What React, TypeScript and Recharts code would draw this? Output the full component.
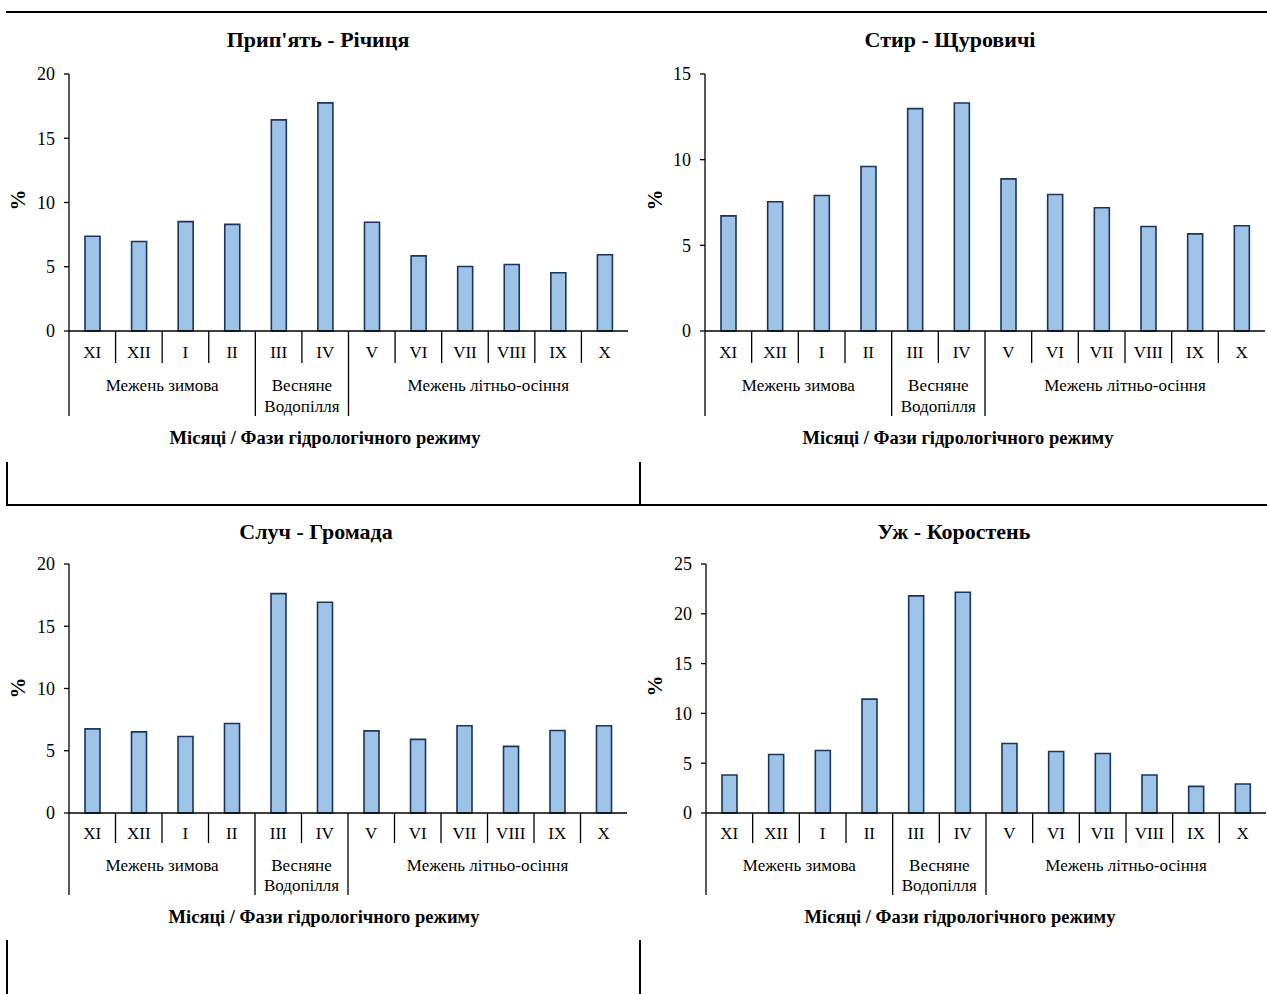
import React from 'react';
import { BarChart, Bar, XAxis, YAxis } from 'recharts';

const MONTHS = ['XI', 'XII', 'I', 'II', 'III', 'IV', 'V', 'VI', 'VII', 'VIII', 'IX', 'X'];
const PRIPYAT = [7.37, 6.96, 8.51, 8.3, 16.43, 17.75, 8.46, 5.85, 5.02, 5.18, 4.53, 5.93];
const STYR = [6.72, 7.54, 7.91, 9.6, 12.98, 13.31, 8.88, 7.97, 7.19, 6.1, 5.67, 6.14];
const SLUCH = [6.76, 6.52, 6.15, 7.19, 17.62, 16.93, 6.6, 5.91, 7.01, 5.35, 6.63, 7.01];
const UZH = [3.81, 5.88, 6.28, 11.43, 21.8, 22.17, 6.98, 6.18, 5.98, 3.81, 2.67, 2.91];
const TICKS_20 = [0, 5, 10, 15, 20];
const TICKS_15 = [0, 5, 10, 15];
const TICKS_25 = [0, 5, 10, 15, 20, 25];
const PHASES = [
  { label: ['Межень зимова'], from: 0, to: 3 },
  { label: ['Весняне', 'Водопілля'], from: 4, to: 5 },
  { label: ['Межень літньо-осіння'], from: 6, to: 11 },
];
const X_TITLE = 'Місяці / Фази гідрологічного режиму';
const Y_TITLE = '%';

const FONT = '"Liberation Serif", "Times New Roman", serif';

type Off = { month: number; monthDiv: number; group: number; group2: number; groupDiv: number };

const OFF_TOP: Off = { month: 21, monthDiv: 32, group: 54, group2: 75, groupDiv: 85 };
const OFF_BOT: Off = { month: 20, monthDiv: 30, group: 52, group2: 72, groupDiv: 82 };

const charts = [
  { title: 'Прип\'ять - Річиця', values: PRIPYAT, yMax: 20, ticks: TICKS_20, left: 0, top: 14, width: 637, height: 446, plotLeft: 69, plotRight: 628, plotTop: 74, plotBottom: 331, titleX: 318, titleY: 40, xtX: 325, xtY: 438, ylX: 18, ylY: 200, off: OFF_TOP },
  { title: 'Стир - Щуровичі', values: STYR, yMax: 15, ticks: TICKS_15, left: 641, top: 14, width: 626, height: 446, plotLeft: 705, plotRight: 1265, plotTop: 74, plotBottom: 331, titleX: 950, titleY: 40, xtX: 958, xtY: 438, ylX: 655, ylY: 200, off: OFF_TOP },
  { title: 'Случ - Громада', values: SLUCH, yMax: 20, ticks: TICKS_20, left: 0, top: 507, width: 637, height: 432, plotLeft: 69, plotRight: 627, plotTop: 564, plotBottom: 813, titleX: 316, titleY: 532, xtX: 324, xtY: 917, ylX: 18, ylY: 688, off: OFF_BOT },
  { title: 'Уж - Коростень', values: UZH, yMax: 25, ticks: TICKS_25, left: 641, top: 507, width: 626, height: 432, plotLeft: 706, plotRight: 1266, plotTop: 564, plotBottom: 813, titleX: 954, titleY: 532, xtX: 960, xtY: 917, ylX: 655, ylY: 686, off: OFF_BOT },
];

function MonthTick(props: any) {
  const { x, y, payload, hb, off } = props;
  const i = props.index ?? payload.index;
  const phase = PHASES.find((p) => p.from === i);
  return (
    <g>
      <line x1={x - hb} x2={x - hb} y1={y} y2={y + (phase ? off.groupDiv : off.monthDiv)} stroke="#000" strokeWidth={1.3} />
      <text x={x} y={y + off.month} textAnchor="middle" dominantBaseline="central" fontSize={17} fontFamily={FONT} fill="#000">
        {payload.value}
      </text>
      {phase &&
        phase.label.map((l, k) => (
          <text
            key={k}
            x={x - hb + (phase.to - phase.from + 1) * hb}
            y={y + (k === 0 ? off.group : off.group2)}
            textAnchor="middle"
            dominantBaseline="central"
            fontSize={17}
            fontFamily={FONT}
            fill="#000"
          >
            {l}
          </text>
        ))}
    </g>
  );
}

function Panel({ c }: { c: (typeof charts)[number] }) {
  const data = MONTHS.map((m, i) => ({ m, v: c.values[i] }));
  const hb = (c.plotRight - c.plotLeft) / MONTHS.length / 2;
  return (
    <>
      <div style={{ position: 'absolute', left: c.left, top: c.top }}>
        <BarChart
          width={c.width}
          height={c.height}
          data={data}
          barSize={15}
          margin={{ top: c.plotTop - c.top, right: c.left + c.width - c.plotRight, left: 0, bottom: 0 }}
        >
          <XAxis
            dataKey="m"
            interval={0}
            tickLine={false}
            tickSize={0}
            tickMargin={0}
            height={c.height - (c.plotBottom - c.top)}
            axisLine={{ stroke: '#000', strokeWidth: 1.3 }}
            tick={(p: any) => <MonthTick {...p} hb={hb} off={c.off} />}
          />
          <YAxis
            width={c.plotLeft - c.left}
            domain={[0, c.yMax]}
            ticks={c.ticks}
            interval={0}
            tickSize={5}
            tickMargin={9}
            axisLine={{ stroke: '#000', strokeWidth: 1.3 }}
            tickLine={{ stroke: '#000', strokeWidth: 1.3 }}
            tick={{ fontSize: 18, fontFamily: FONT, fill: '#000' }}
          />
          <Bar dataKey="v" fill="#9DC3E6" stroke="#1B3560" strokeWidth={1.6} isAnimationActive={false} />
        </BarChart>
      </div>
      <div style={{ position: 'absolute', left: c.titleX, top: c.titleY, transform: 'translate(-50%,-50%)', fontFamily: FONT, fontWeight: 'bold', fontSize: 22, whiteSpace: 'nowrap', color: '#000' }}>
        {c.title}
      </div>
      <div style={{ position: 'absolute', left: c.xtX, top: c.xtY, transform: 'translate(-50%,-50%)', fontFamily: FONT, fontWeight: 'bold', fontSize: 18.5, whiteSpace: 'nowrap', color: '#000' }}>
        {X_TITLE}
      </div>
      <div style={{ position: 'absolute', left: c.ylX, top: c.ylY, transform: 'translate(-50%,-50%) rotate(-90deg)', fontFamily: FONT, fontWeight: 'bold', fontSize: 21, whiteSpace: 'nowrap', color: '#000' }}>
        {Y_TITLE}
      </div>
    </>
  );
}

const lineStyle = (left: number, top: number, width: number, height: number): React.CSSProperties => ({
  position: 'absolute', left, top, width, height, background: '#000',
});

export default function App() {
  return (
    <div style={{ position: 'absolute', left: 0, top: 0, width: 1267, height: 994, background: '#fff', overflow: 'hidden' }}>
      <div style={lineStyle(6, 11, 1261, 2)} />
      <div style={lineStyle(6, 504, 1261, 2)} />
      <div style={lineStyle(6, 462, 2, 43)} />
      <div style={lineStyle(639, 462, 2, 43)} />
      <div style={lineStyle(6, 940, 2, 54)} />
      <div style={lineStyle(639, 940, 2, 54)} />
      {charts.map((c, i) => (
        <Panel key={i} c={c} />
      ))}
    </div>
  );
}
